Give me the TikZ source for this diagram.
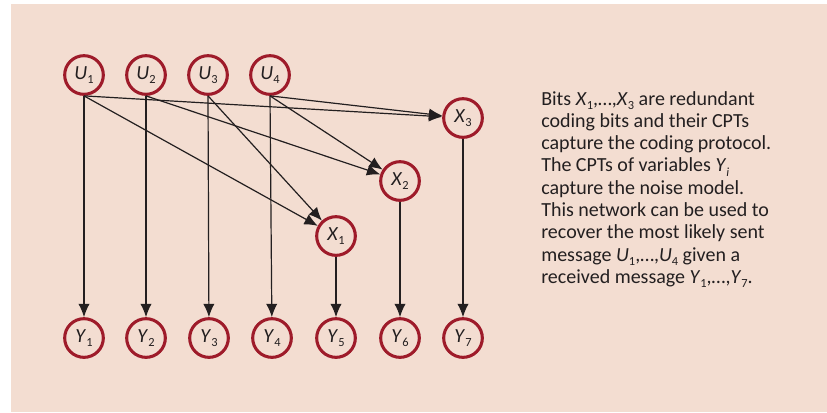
\documentclass[tikz,border=0pt]{standalone}
\usepackage{fontspec}
\setmainfont{Carlito}
\usetikzlibrary{arrows.meta,positioning}
\definecolor{BNPeach}{HTML}{F3DDD1}
\definecolor{BNRed}{HTML}{9E1B2A}
\definecolor{BNInk}{HTML}{231F20}
\newcommand{\bnvar}[2]{\textit{#1}\raisebox{-0.45ex}{\scalebox{0.62}{#2}}}
\tikzset{
bnnode/.style={circle, draw=BNRed, line width=2.3pt, minimum size=29pt, inner sep=0pt,
  font=\fontsize{15}{18}\selectfont, text=BNInk},
bnarrow/.style={-{Latex[length=10pt,width=8.5pt]}, line width=0.9pt, draw=BNInk},
bntext/.style={align=left, inner sep=0pt, font=\fontsize{15}{16.7}\selectfont, text=BNInk}
}

\begin{document}
\begin{tikzpicture}[x=0.75pt,y=-0.75pt]
\useasboundingbox (0,0) rectangle (827,412);
\fill[BNPeach] (11,4) rectangle (827,412);

% message bits
\node[bnnode] (U1) at (84,75) {\bnvar{U}{1}};
\node[bnnode] (U2) at (146,75) {\bnvar{U}{2}};
\node[bnnode] (U3) at (208,75) {\bnvar{U}{3}};
\node[bnnode] (U4) at (270,75) {\bnvar{U}{4}};

% received bits
\node[bnnode] (Y1) at (84,338) {\bnvar{Y}{1}};
\node[bnnode] (Y2) at (146,338) {\bnvar{Y}{2}};
\node[bnnode] (Y3) at (209,338) {\bnvar{Y}{3}};
\node[bnnode] (Y4) at (272,338) {\bnvar{Y}{4}};
\node[bnnode] (Y5) at (336,338) {\bnvar{Y}{5}};
\node[bnnode] (Y6) at (400,338) {\bnvar{Y}{6}};
\node[bnnode] (Y7) at (463,338) {\bnvar{Y}{7}};

% redundant bits
\node[bnnode] (X1) at (336,236) {\bnvar{X}{1}};
\node[bnnode] (X2) at (400,181) {\bnvar{X}{2}};
\node[bnnode] (X3) at (463,118) {\bnvar{X}{3}};

\draw[bnarrow] (U1.south) -- (Y1);
\draw[bnarrow] (U2.south) -- (Y2);
\draw[bnarrow] (U3.south) -- (Y3);
\draw[bnarrow] (U4.south) -- (Y4);
\draw[bnarrow] (X1) -- (Y5);
\draw[bnarrow] (X2) -- (Y6);
\draw[bnarrow] (X3) -- (Y7);

\draw[bnarrow] (U1.south) -- (X3);
\draw[bnarrow] (U1.south) -- (X1);
\draw[bnarrow] (U2.south) -- (X2);
\draw[bnarrow] (U3.south) -- (X1);
\draw[bnarrow] (U4.south) -- (X3);
\draw[bnarrow] (U4.south) -- (X2);

\node[bntext, anchor=north west] (note) at (541,91) {Bits \bnvar{X}{1},\dots,\bnvar{X}{3} are redundant\\
coding bits and their CPTs\\
capture the coding protocol.\\
The CPTs of variables \bnvar{Y}{\textit{i}}\\
capture the noise model.\\
This network can be used to\\
recover the most likely sent\\
message \bnvar{U}{1},\dots,\bnvar{U}{4} given a\\
received message \bnvar{Y}{1},\dots,\bnvar{Y}{7}.};
\end{tikzpicture}
\end{document}
